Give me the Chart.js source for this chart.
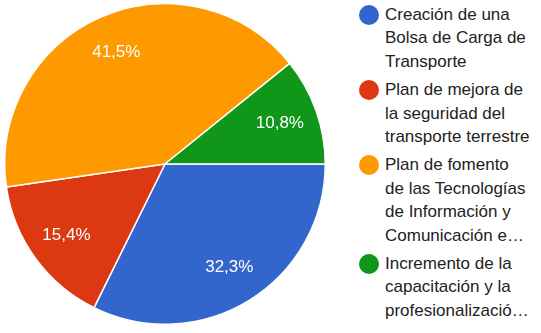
<!DOCTYPE html>
<html>
<head>
<meta charset="utf-8">
<script src="https://cdn.jsdelivr.net/npm/chart.js@4"></script>
<style>
  body { margin: 0; background: #fff; width: 541px; height: 333px; overflow: hidden; position: relative; }
  #wrap { position: absolute; left: 0; top: 0; width: 330px; height: 333px; }
  #legend { position: absolute; left: 357px; top: 3px; font-family: "Liberation Sans", Arial, sans-serif; font-size: 17px; color: #222; }
  .item { position: relative; padding-left: 28px; line-height: 23.4px; margin-bottom: 5px; }
  .dot { position: absolute; left: 2px; top: 2px; width: 20px; height: 20px; border-radius: 50%; }
</style>
</head>
<body>
<div id="wrap"><canvas id="pie"></canvas></div>
<div id="legend"></div>
<script>
// categories (legend lines as shown, truncated like the original)
const labels = [
  ['Creación de una', 'Bolsa de Carga de', 'Transporte'],
  ['Plan de mejora de', 'la seguridad del', 'transporte terrestre'],
  ['Plan de fomento', 'de las Tecnologías', 'de Información y', 'Comunicación e…'],
  ['Incremento de la', 'capacitación y la', 'profesionalizació…']
];
const values = [32.3, 15.4, 41.5, 10.8];
const colors = ['#3366cc', '#dc3912', '#ff9900', '#109618'];

// percent labels drawn inside the slices
const sliceLabels = {
  id: 'sliceLabels',
  afterDatasetsDraw(chart) {
    const ctx = chart.ctx;
    const meta = chart.getDatasetMeta(0);
    const total = values.reduce((a, b) => a + b, 0);
    ctx.save();
    ctx.font = '17px "Liberation Sans", Arial, sans-serif';
    ctx.fillStyle = '#fff';
    ctx.textAlign = 'center';
    ctx.textBaseline = 'middle';
    meta.data.forEach((arc, i) => {
      const p = arc.getProps(['x', 'y', 'startAngle', 'endAngle', 'outerRadius'], true);
      const mid = (p.startAngle + p.endAngle) / 2;
      const r = p.outerRadius * 0.76;
      const pct = (values[i] / total * 100).toFixed(1).replace('.', ',') + '%';
      ctx.fillText(pct, p.x + Math.cos(mid) * r, p.y + Math.sin(mid) * r);
    });
    ctx.restore();
  }
};

new Chart(document.getElementById('pie'), {
  type: 'pie',
  data: {
    labels: labels.map(l => l.join(' ')),
    datasets: [{
      data: values,
      backgroundColor: colors,
      borderColor: '#fff',
      borderWidth: 1.5
    }]
  },
  options: {
    responsive: true,
    maintainAspectRatio: false,
    animation: false,
    rotation: 90,
    layout: { padding: { left: 4, right: 4, top: 3, bottom: 8 } },
    plugins: {
      legend: { display: false },
      tooltip: { enabled: false }
    }
  },
  plugins: [sliceLabels]
});

// legend
const legendEl = document.getElementById('legend');
labels.forEach((lines, i) => {
  const item = document.createElement('div');
  item.className = 'item';
  item.innerHTML = `<span class="dot" style="background:${colors[i]}"></span>` + lines.join('<br>');
  legendEl.appendChild(item);
});
</script>
</body>
</html>
